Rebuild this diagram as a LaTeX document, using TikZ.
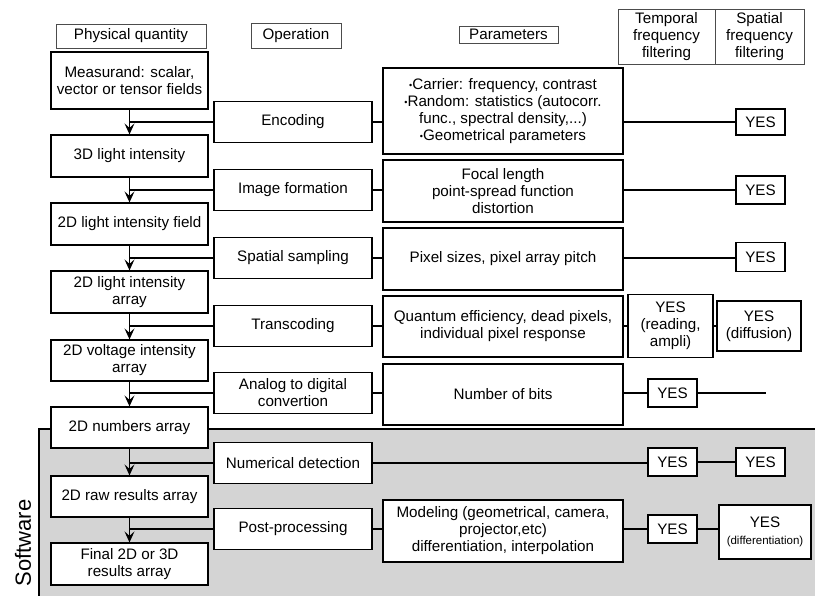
\documentclass[tikz,border=0pt]{standalone}
\usepackage{fontspec}
\setmainfont{Liberation Sans}
\usetikzlibrary{arrows.meta}
\newcommand\bul{{\fontsize{9}{9}\selectfont\raisebox{1pt}{•}}}
\tikzset{
  qbox/.style={draw, fill=white, line width=1.2pt, minimum width=157pt, minimum height=42pt, align=center, inner sep=1pt},
  opbox/.style={draw, fill=white, line width=1.2pt, minimum width=158pt, minimum height=41pt, align=center, inner sep=1pt},
  parbox/.style={draw, fill=white, line width=1.2pt, minimum width=240pt, minimum height=62pt, align=center, inner sep=1pt},
  yesbox/.style={draw, fill=white, line width=1.2pt, minimum width=49pt, minimum height=28pt, align=center, inner sep=1pt},
  headbox/.style={draw=black!70, fill=white, line width=0.8pt, align=center, inner sep=1pt},
  link/.style={line width=1.2pt},
  flow/.style={line width=1.2pt, -{Stealth[length=11pt, width=10pt, inset=4.5pt]}}
}
\begin{document}
\begin{tikzpicture}[x=1pt, y=-1pt, font=\fontsize{15.2}{17}\selectfont]
    \useasboundingbox (0,0) rectangle (815,596);
    \fill[black!17] (39,429) rectangle (815,596);
    \draw[link] (39,596) -- (39,429) -- (815,429);
    \node[rotate=90, font=\fontsize{22}{26}\selectfont] (soft) at (23,543) {Software};

    \node[headbox, minimum width=150pt, minimum height=24pt] (hphys) at (131,36) {Physical quantity};
    \node[headbox, minimum width=90pt, minimum height=25pt] (hop) at (296,35.5) {Operation};
    \node[headbox, minimum width=99pt, minimum height=17pt] (hpar) at (508.5,34.5) {Parameters};
    \node[headbox, minimum width=97pt, minimum height=55pt] (htemp) at (666.5,36.5) {Temporal\\frequency\\filtering};
    \node[headbox, minimum width=89pt, minimum height=55pt] (hspat) at (759.5,36.5) {Spatial\\frequency\\filtering};

    \node[qbox, minimum height=57pt] (meas) at (129.5,80.5) {Measurand: scalar,\\vector or tensor fields};
    \node[qbox] (light3d) at (129.5,156) {3D light intensity};
    \node[qbox] (field2d) at (129.5,224) {2D light intensity field};
    \node[qbox] (larray) at (129.5,292) {2D light intensity\\array};
    \node[qbox, minimum height=41pt] (varray) at (129.5,360.5) {2D voltage intensity\\array};
    \node[qbox, minimum height=41pt] (numarr) at (129.5,427.5) {2D numbers array};
    \node[qbox, minimum height=41pt] (rawarr) at (129.5,496.5) {2D raw results array};
    \node[qbox] (final) at (129.5,564) {Final 2D or 3D\\results array};

    \node[opbox] (enc) at (293,122) {Encoding};
    \node[opbox] (imgf) at (293,190) {Image formation};
    \node[opbox] (samp) at (293,258) {Spatial sampling};
    \node[opbox] (trans) at (293,326) {Transcoding};
    \node[opbox] (adc) at (293,393) {Analog to digital\\convertion};
    \node[opbox] (numdet) at (293,463) {Numerical detection};
    \node[opbox] (post) at (293,529) {Post-processing};

    \node[parbox, minimum height=86pt] (penc) at (503,111) {\bul Carrier: frequency, contrast\\\bul Random: statistics (autocorr.\\func., spectral density,...)\\\bul Geometrical parameters};
    \node[parbox] (pimg) at (503,191) {Focal length\\point-spread function\\distortion};
    \node[parbox] (psamp) at (503,259) {Pixel sizes, pixel array pitch};
    \node[parbox, minimum height=61pt] (ptrans) at (503,326.5) {Quantum efficiency, dead pixels,\\individual pixel response};
    \node[parbox, minimum height=61pt] (padc) at (503,394.5) {Number of bits};
    \node[parbox] (ppost) at (503,531) {Modeling (geometrical, camera,\\projector,etc)\\differentiation, interpolation};

    \node[yesbox, minimum height=26pt] (yenc) at (760.5,122) {YES};
    \node[yesbox] (yimg) at (760.5,190) {YES};
    \node[yesbox, minimum height=29pt] (ysamp) at (760.5,257) {YES};
    \node[yesbox, minimum width=85pt, minimum height=63pt] (ytrone) at (670.5,326) {YES\\(reading,\\ampli)};
    \node[yesbox, minimum width=84pt, minimum height=50pt] (ytrtwo) at (759,326) {YES\\(diffusion)};
    \node[yesbox] (yadc) at (672.5,393) {YES};
    \coordinate (adcend) at (766,393);
    \node[yesbox] (yndone) at (672.5,462) {YES};
    \node[yesbox] (yndtwo) at (760.5,462) {YES};
    \node[yesbox] (yppone) at (672.5,529) {YES};
    \node[yesbox, minimum width=92pt, minimum height=54pt] (ypptwo) at (765,532) {YES\\{\fontsize{11.5}{14}\selectfont(differentiation)}};

    \foreach \a/\b in {meas/light3d, light3d/field2d, field2d/larray, larray/varray, varray/numarr, numarr/rawarr, rawarr/final}
      \draw[flow] (\a) -- (\b);
    \foreach \o/\q in {enc/meas, imgf/light3d, samp/field2d, trans/larray, adc/varray, numdet/numarr, post/rawarr}
      \draw[link] (\o.west) -- (\o.west -| \q.south);
    \foreach \o/\p in {enc/penc, imgf/pimg, samp/psamp, trans/ptrans, adc/padc, post/ppost}
      \draw[link] (\o.east) -- (\o.east -| \p.west);

    \draw[link] (enc.east -| penc.east) -- (yenc.west);
    \draw[link] (imgf.east -| pimg.east) -- (imgf.east -| yimg.west);
    \draw[link] (samp.east -| psamp.east) -- (samp.east -| ysamp.west);
    \draw[link] (trans.east -| ptrans.east) -- (ytrone.west);
    \draw[link] (ytrone.east) -- (ytrtwo.west);
    \draw[link] (adc.east -| padc.east) -- (yadc.west);
    \draw[link] (yadc.east) -- (adcend);
    \draw[link] (numdet.east) -- (numdet.east -| yndone.west);
    \draw[link] (yndone.east) -- (yndone.east -| yndtwo.west);
    \draw[link] (post.east -| ppost.east) -- (yppone.west);
    \draw[link] (yppone.east) -- (yppone.east -| ypptwo.west);
\end{tikzpicture}
\end{document}
